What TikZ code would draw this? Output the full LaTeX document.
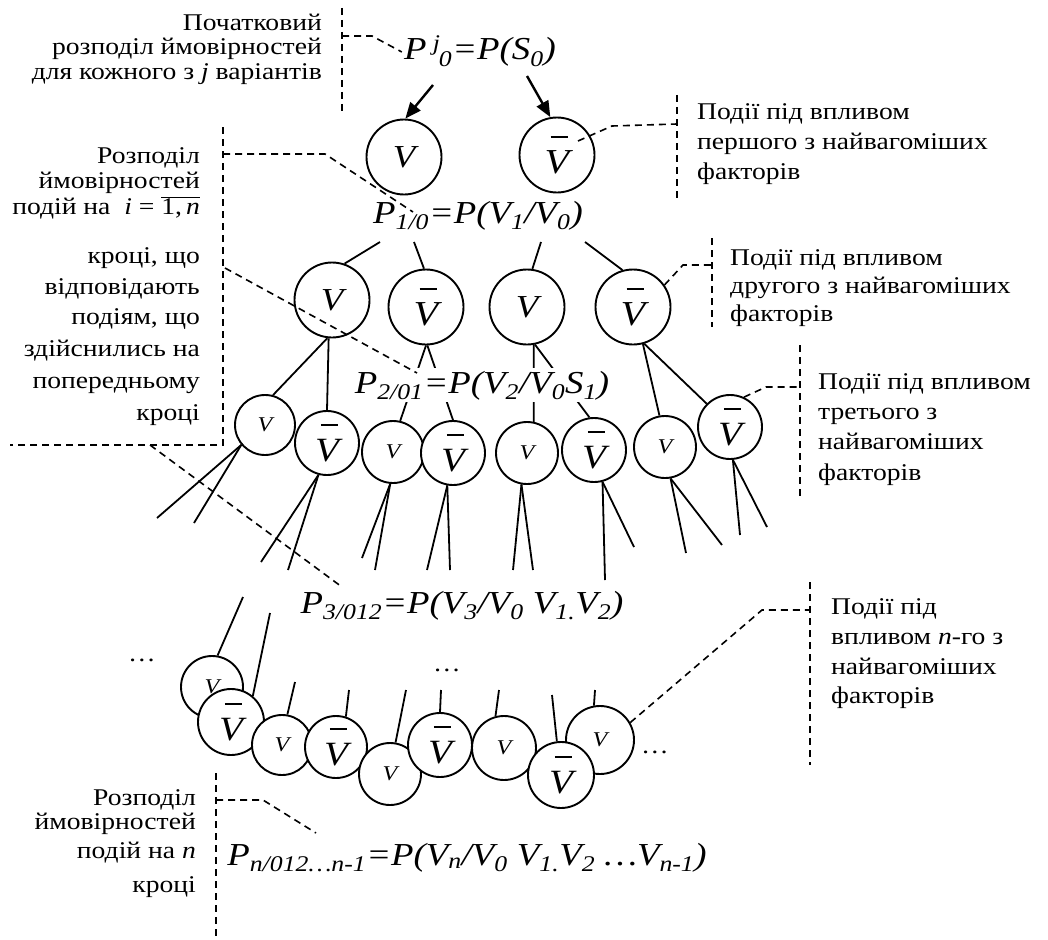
\documentclass[tikz,border=0pt]{standalone}
\usepackage{fontspec}
\setmainfont{Liberation Serif}[FakeStretch=1.15]
\usetikzlibrary{arrows.meta}
\newcommand\Vbar{{\setbox0=\hbox{\itshape V}\dimen0=\wd0 \vbox{\hbox to \dimen0{\hskip0.24\dimen0\vrule width 0.7\dimen0 height 0.06em\hss}\kern0.03em\box0}}}
\newcommand\sbs[1]{\textsubscript{#1}}
\begin{document}
\begin{tikzpicture}[x=1pt,y=-1pt,
  ev/.style={circle,draw,fill=white,line width=1.9pt,inner sep=0pt},
  vbig/.style={ev,minimum size=75pt,font=\fontsize{32}{32}\selectfont\itshape},
  vbbig/.style={ev,minimum size=75pt,font=\fontsize{35}{35}\selectfont},
  vsm/.style={ev,minimum size=#1,font=\fontsize{21}{21}\selectfont\itshape},
  vbsm/.style={ev,minimum size=#1,font=\fontsize{34}{34}\selectfont},
  ln/.style={line width=1.8pt},
  arr/.style={line width=2.4pt,-{Triangle[length=16pt,width=13pt]}},
  lead/.style={line width=1.6pt,dash pattern=on 7pt off 5pt},
  lbl/.style={font=\fontsize{24}{26}\selectfont,inner sep=0pt},
  fml/.style={font=\fontsize{32}{32}\selectfont\itshape,fill=white,inner xsep=2pt,inner ysep=0pt,text height=25pt,text depth=9pt},
  dots/.style={font=\fontsize{24}{24}\selectfont,inner sep=0pt}]
\useasboundingbox (0,0) rectangle (1048,939);

% ---------- coordinates ----------
\coordinate (a1) at (433,85); \coordinate (a2) at (527,76);
\coordinate (k1) at (380,242); \coordinate (k2) at (414,242);
\coordinate (k3) at (541,242); \coordinate (k4) at (585,242);
\foreach \n/\x/\y in {fa1/157/518,fa2/194/523,fb1/261/562,fb2/288/570,
  fc1/362/558,fc2/375/570,fd1/427/570,fd2/450/570,fe1/513/570,fe2/533/570,
  ff1/605/580,ff2/634/547,fg1/686/553,fg2/722/545,fh1/740/535,fh2/767/527,
  up1/243/597,up2/270/613,up3/295/682,up4/349/690,up5/406/690,up6/441/690,
  up7/499/690,up8/552/695,up9/595/690}
  \coordinate (\n) at (\x,\y);

% ---------- level 1 ----------
\node[vbig]  (L1a) at (404,157) {V};
\node[vbbig] (L1b) at (557,155) {\Vbar};
% ---------- level 2 ----------
\node[vbig]  (L2a) at (332,300) {V};
\node[vbbig] (L2b) at (426,307) {\Vbar};
\node[vbig]  (L2c) at (527,307) {V};
\node[vbbig] (L2d) at (633,307) {\Vbar};
% ---------- level 3 ----------
\node[vsm=60pt]  (a) at (265,425) {V};
\node[vbsm=64pt] (b) at (327,443) {\Vbar};
\node[vsm=62pt]  (c) at (393,452) {V};
\node[vbsm=64pt] (d) at (453,453) {\Vbar};
\node[vsm=62pt]  (e) at (527,453) {V};
\node[vbsm=64pt] (f) at (594,450) {\Vbar};
\node[vsm=62pt]  (g) at (665,447) {V};
\node[vbsm=64pt] (h) at (730,427) {\Vbar};
% ---------- level 4 ----------
\node[vsm=62pt]  (p) at (212,687) {V};
\node[vbsm=66pt] (q) at (231,722) {\Vbar};
\node[vsm=60pt]  (r) at (282,745) {V};
\node[vbsm=62pt] (s) at (336,747) {\Vbar};
\node[vsm=62pt]  (t) at (390,774) {V};
\node[vbsm=64pt] (u) at (440,745) {\Vbar};
\node[vsm=64pt]  (w) at (504,748) {V};
\node[vsm=68pt]  (y) at (600,740) {V};
\node[vbsm=66pt] (xx) at (561,775) {\Vbar};

% ---------- connectors ----------
\draw[arr] (a1) -- (L1a.88);
\draw[arr] (a2) -- (L1b.100);
\draw[ln] (k1) -- (L2a.71);
\draw[ln] (k2) -- (L2b.93);
\draw[ln] (k3) -- (L2c.82);
\draw[ln] (k4) -- (L2d.106);
\draw[ln] (L2a.263) -- (a.75);
\draw[ln] (L2a.265) -- (b.90);
\draw[ln] (L2b.270) -- (c.77);
\draw[ln] (L2b.272) -- (d.90);
\draw[ln] (L2c.280) -- (e.78);
\draw[ln] (L2c.282) -- (f.98);
\draw[ln] (L2d.285) -- (g.100);
\draw[ln] (L2d.287) -- (h.135);
\draw[ln] (a.220) -- (fa1); \draw[ln] (a.220) -- (fa2);
\draw[ln] (b.255) -- (fb1); \draw[ln] (b.255) -- (fb2);
\draw[ln] (c.265) -- (fc1); \draw[ln] (c.265) -- (fc2);
\draw[ln] (d.260) -- (fd1); \draw[ln] (d.260) -- (fd2);
\draw[ln] (e.260) -- (fe1); \draw[ln] (e.260) -- (fe2);
\draw[ln] (f.285) -- (ff1); \draw[ln] (f.285) -- (ff2);
\draw[ln] (g.280) -- (fg1); \draw[ln] (g.280) -- (fg2);
\draw[ln] (h.275) -- (fh1); \draw[ln] (h.275) -- (fh2);
\draw[ln] (up1) -- (p.80);
\draw[ln] (up2) -- (q.50);
\draw[ln] (up3) -- (r.80);
\draw[ln] (up4) -- (s.72);
\draw[ln] (up5) -- (t.80);
\draw[ln] (up6) -- (u.90);
\draw[ln] (up7) -- (w.105);
\draw[ln] (up8) -- (xx.97);
\draw[ln] (up9) -- (y.100);

% ---------- formulas ----------
\node[fml] (F0) at (480,52) {P\kern0.2em\textsuperscript{j}\kern-0.05em\sbs{0}=P(S\sbs{0})};
\node[fml] (F1) at (478,215) {P\sbs{1/0}=P(V\sbs{1}/V\sbs{0})};
\node[fml] (F2) at (482,385) {P\sbs{2/01}=P(V\sbs{2}/V\sbs{0}S\sbs{1})};
\node[fml] (F3) at (462,605) {P\sbs{3/012}=P(V\sbs{3}/V\sbs{0} V\sbs{1.}V\sbs{2})};
\node[fml] (Fn) at (467,857) {P\sbs{n/012…n-1}=P(V\sbs{n}/V\sbs{0} V\sbs{1.}V\sbs{2} …V\sbs{n-1})};

% ---------- dots ----------
\node[dots] (d1) at (142,660) {…};
\node[dots] (d2) at (447,670) {…};
\node[dots] (d3) at (655,752) {…};

% ---------- texts ----------
\node[lbl,anchor=base east] (t01) at (322,31) {Початковий};
\node[lbl,anchor=base east] (t02) at (322,55) {розподіл ймовірностей};
\node[lbl,anchor=base east] (t03) at (322,80) {для кожного з \textit{j} варіантів};

\node[lbl,anchor=base east] (t11) at (200,163) {Розподіл};
\node[lbl,anchor=base east] (t12) at (200,188) {ймовірностей};
\node[lbl,anchor=base east] (t13) at (200,214) {подій на \ \textit{i} = $\overline{\hbox{1,\,\itshape n}}$};
\node[lbl,anchor=base east] (t14) at (200,263) {кроці, що};
\node[lbl,anchor=base east] (t15) at (200,294) {відповідають};
\node[lbl,anchor=base east] (t16) at (200,324) {подіям, що};
\node[lbl,anchor=base east] (t17) at (200,356) {здійснились на};
\node[lbl,anchor=base east] (t18) at (200,388) {попередньому};
\node[lbl,anchor=base east] (t19) at (200,420) {кроці};

\node[lbl,anchor=base west] (r11) at (697,119) {Події під впливом};
\node[lbl,anchor=base west] (r12) at (697,149) {першого з найвагоміших};
\node[lbl,anchor=base west] (r13) at (697,179) {факторів};

\node[lbl,anchor=base west] (r21) at (730,265) {Події під впливом};
\node[lbl,anchor=base west] (r22) at (730,293) {другого з найвагоміших};
\node[lbl,anchor=base west] (r23) at (730,321) {факторів};

\node[lbl,anchor=base west] (r31) at (818,389) {Події під впливом};
\node[lbl,anchor=base west] (r32) at (818,419) {третього з};
\node[lbl,anchor=base west] (r33) at (818,449) {найвагоміших};
\node[lbl,anchor=base west] (r34) at (818,480) {факторів};

\node[lbl,anchor=base west] (r41) at (831,614) {Події під};
\node[lbl,anchor=base west] (r42) at (831,644) {впливом \textit{n}-го з};
\node[lbl,anchor=base west] (r43) at (831,674) {найвагоміших};
\node[lbl,anchor=base west] (r44) at (831,703) {факторів};

\node[lbl,anchor=base east] (b1) at (196,805) {Розподіл};
\node[lbl,anchor=base east] (b2) at (196,829) {ймовірностей};
\node[lbl,anchor=base east] (b3) at (196,858) {подій на \textit{n}};
\node[lbl,anchor=base east] (b4) at (196,892) {кроці};

% ---------- dashed leaders ----------
\foreach \n/\x/\y in {s0t/342/8,s0b/342/115,s0m/342/36,s0k/372/36,
  s1t/223/127,s1b/223/445,s1l/10/445,s1m/223/154,s1k/325/154,s1e/413/212,
  s1p/225/268,s1q/417/373,s1r/150/445,s1s/342/587,
  r1t/677/95,r1b/677/200,r1s/578/141,r1k/612/126,r1m/677/124,
  r2t/712/238,r2b/712/327,r2k/683/265,r2m/712/265,
  r3t/800/345,r3b/800/500,r3k/766/387,r3m/800/387,
  r4t/810/582,r4b/810/765,r4k/762/610,r4m/810/610,
  bt/216/773,bb/216/939,bm/216/800,bk/263/800,be/316/833}
  \coordinate (\n) at (\x,\y);
\draw[lead] (s0t) -- (s0b);
\draw[lead] (s0m) -- (s0k) -- (F0.west);
\draw[lead] (s1t) -- (s1b) -- (s1l);
\draw[lead] (s1m) -- (s1k) -- (s1e);
\draw[lead] (s1p) -- (s1q);
\draw[lead] (s1r) -- (s1s);
\draw[lead] (r1t) -- (r1b);
\draw[lead] (r1s) -- (r1k) -- (r1m);
\draw[lead] (r2t) -- (r2b);
\draw[lead] (L2d.35) -- (r2k) -- (r2m);
\draw[lead] (r3t) -- (r3b);
\draw[lead] (h.65) -- (r3k) -- (r3m);
\draw[lead] (r4t) -- (r4b);
\draw[lead] (y.30) -- (r4k) -- (r4m);
\draw[lead] (bt) -- (bb);
\draw[lead] (bm) -- (bk) -- (be);
\end{tikzpicture}
\end{document}
